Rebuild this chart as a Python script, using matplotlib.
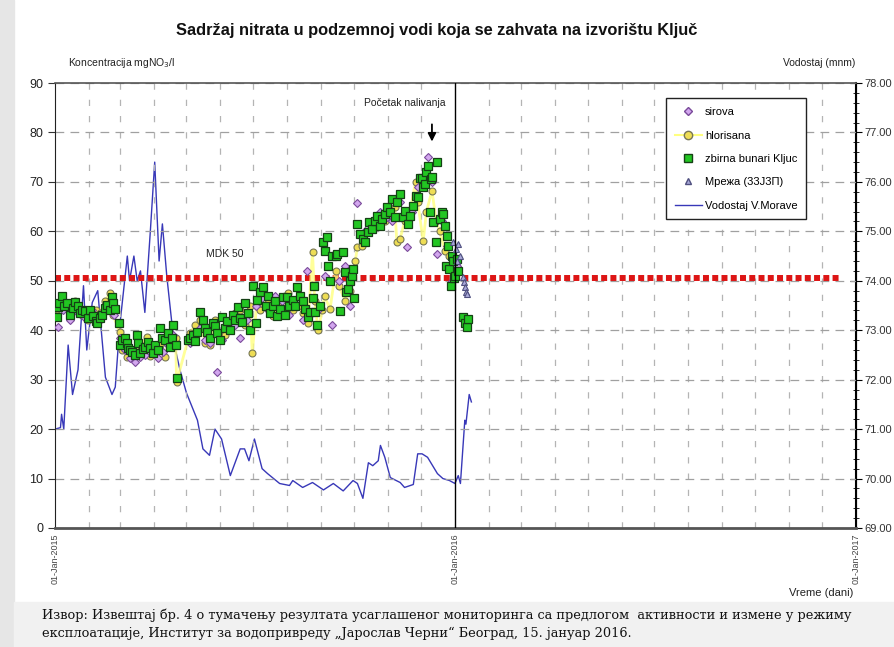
import matplotlib
matplotlib.use('Agg')
import matplotlib.pyplot as plt
import matplotlib.dates as mdates
from matplotlib.patches import Rectangle
from matplotlib.lines import Line2D
import numpy as np
import pandas as pd

plt.rcParams['font.family'] = ['Liberation Sans', 'DejaVu Sans']

start = pd.Timestamp('2015-01-01')

# zbirna bunari Ključ (dani od 01-Jan-2015, mg NO3/l)
zb_day = [2, 3, 4, 6, 8, 11, 14, 16, 18, 21, 23, 25, 27, 30, 32, 35, 37, 38, 41, 43, 46, 47, 50, 52, 53, 55,
          58, 59, 61, 64, 66, 67, 68, 70, 73, 75, 76, 78, 80, 82, 85, 87, 89, 91, 94, 96, 98, 100, 103, 105,
          107, 108, 110, 111,
          121, 123, 126, 128, 130, 132, 135, 137, 139, 141, 144, 146, 148, 151, 152, 155, 157, 160, 162, 164,
          167, 169, 171, 173, 176, 178, 181, 183, 184, 187, 190, 193, 194, 196, 199, 201, 203, 205, 208, 210,
          212, 214, 217, 219, 221, 224, 226, 228, 231, 233, 235, 236, 237, 239, 242, 245, 246, 248, 249, 251,
          253, 256, 257, 260, 263, 265, 266, 267, 269, 271, 272, 273, 276, 278, 281, 283, 286, 287, 289, 292,
          294, 297, 298, 301, 303, 306, 308, 310, 312, 315, 318, 319, 322, 324, 327, 329, 331, 333, 335, 336,
          338, 339, 340, 342, 343, 344, 345, 348, 349, 351, 353, 354, 356, 357, 358, 359, 360, 361, 362, 363,
          364, 365, 367, 368, 372, 374, 376, 377]
zb_val = [42.6, 44.6, 45.5, 47.0, 45.0, 45.6, 43.0, 44.5, 45.8, 44.8, 43.5, 44.0, 43.8, 42.5, 44.0, 42.8, 41.8,
          41.5, 42.5, 43.0, 44.5, 45.2, 44.0, 46.8, 45.6, 44.2,
          41.5, 37.0, 38.0, 38.5, 37.5, 36.5, 36.0, 35.5, 35.0, 39.0, 37.5, 35.4, 36.2, 36.7, 37.7, 36.5, 35.4,
          37.0, 36.0, 40.5, 38.5, 38.0, 39.5, 36.7, 38.5, 41.0, 37.0, 30.3,
          38.0, 38.5, 39.0, 37.8, 39.7, 43.6, 42.0, 40.5, 39.7, 38.5, 41.5, 40.8, 39.5, 38.0, 42.6, 40.5, 41.8,
          40.0, 43.0, 42.0, 44.6, 42.5, 41.7, 45.6, 43.5, 40.0, 48.9, 41.5, 46.2, 47.7, 48.7, 45.0, 47.0, 43.5,
          44.8, 46.0, 42.8, 44.2, 46.8, 43.0, 46.8, 44.8, 46.2, 45.0, 48.7, 47.0, 46.0, 44.2, 42.6, 43.6, 46.6,
          48.9, 43.6, 41.0, 45.0, 57.8, 56.0, 58.9, 53.0, 50.0, 55.0, 55.0, 55.5, 43.8, 55.8, 51.7, 47.7, 48.3,
          50.0, 50.9, 52.3, 46.6, 61.5, 59.5, 58.5, 57.8, 59.9, 61.9, 60.5, 62.0, 63.1, 61.0, 62.5, 63.5, 65.0,
          64.0, 66.6, 62.8, 66.0, 67.6, 63.0, 64.2, 61.5, 63.1, 65.2, 67.2, 67.0, 70.7, 70.7, 69.0, 69.5, 72.0,
          73.3, 64.0, 70.5, 71.0, 61.9, 57.8, 74.1, 62.5, 64.0, 63.5, 61.0, 53.0, 59.0, 57.0, 52.3, 48.9, 55.0,
          54.0, 50.5, 50.9, 54.4, 52.0, 42.6, 41.5, 40.7, 42.2]

# hlorisana
hl_day = [2, 6, 12, 18, 25, 30, 37, 41, 46, 50, 53,
          59, 61, 66, 71, 78, 84, 87, 91, 96, 100, 105, 110, 111,
          123, 128, 132, 137, 141, 146, 151, 155, 160, 164, 169, 173, 178, 180, 184, 187, 192, 194, 199, 204,
          208, 213, 217, 222, 226, 231, 235, 237, 240, 244, 246, 251, 256, 259, 265, 269, 274, 276, 280, 286,
          292, 297, 301, 306, 310, 312, 315, 319, 324, 329, 331, 336, 339, 344, 348, 351, 356, 360, 365]
hl_val = [43.0, 46.0, 44.5, 46.0, 43.0, 42.0, 44.0, 43.5, 46.0, 47.5, 43.0,
          39.7, 36.0, 34.5, 35.5, 37.0, 38.7, 34.8, 36.0, 37.0, 34.5, 39.0, 38.5, 29.5,
          39.5, 41.0, 42.0, 37.5, 37.0, 42.0, 38.5, 39.0, 41.0, 43.5, 44.0, 41.0, 45.0, 35.4, 45.0, 44.0, 47.0,
          45.5, 42.8, 45.5, 44.0, 47.5, 44.0, 45.0, 43.5, 41.5, 55.8, 46.0, 40.0, 44.0, 47.0, 44.2, 52.0, 48.9,
          46.0, 48.0, 54.0, 56.8, 57.0, 60.0, 61.0, 63.0, 62.0, 63.5, 65.0, 57.8, 58.5, 62.0, 64.0, 70.0, 66.0,
          58.0, 64.0, 68.2, 62.0, 60.0, 56.0, 55.0, 51.0]

# sirova
sr_day = [3, 7, 14, 21, 27, 34, 41, 48, 54,
          59, 64, 68, 73, 78, 82, 87, 94, 99, 103, 108,
          123, 132, 137, 141, 148, 152, 158, 164, 169, 175, 183, 189, 194, 201, 207, 214, 221, 226, 230, 240,
          246, 253, 259, 265, 269, 276, 283, 289, 297, 303, 308, 315, 321, 326, 331, 336, 340, 344, 349, 353,
          358, 362, 367]
sr_val = [40.7, 44.0, 42.0, 43.5, 42.5, 44.0, 42.0, 44.0, 43.0,
          38.5, 36.0, 34.4, 33.6, 34.5, 35.0, 35.5, 34.4, 35.5, 37.0, 39.0,
          37.5, 40.5, 38.0, 37.5, 31.6, 38.0, 40.0, 41.0, 38.5, 42.0, 45.0, 46.5, 44.0, 47.0, 46.0, 43.0, 46.0,
          42.0, 52.0, 44.0, 51.0, 41.0, 50.0, 53.0, 45.0, 65.8, 60.0, 62.0, 64.0, 63.0, 62.0, 66.0, 56.8, 64.0,
          69.0, 71.0, 75.0, 70.0, 55.4, 62.0, 57.0, 50.0, 53.0]

# Мрежа (33J3П)
mr_day = [363, 366, 367, 368, 370, 372, 373, 374, 375, 376]
mr_val = [57.8, 56.5, 54.0, 57.5, 55.0, 50.7, 49.7, 48.7, 47.7, 47.3]

# Vodostaj V.Morave (mnm)
vd_day = [0, 5, 6, 8, 12, 16, 21, 26, 29, 34, 39, 46, 52, 55, 59, 66, 68, 72, 75, 78, 82, 87, 91, 95, 98,
          102, 107, 110, 114, 120, 130, 135, 141, 146, 152, 160, 169, 173, 177, 182, 189, 194, 205, 214, 217,
          226, 235, 245, 254, 263, 272, 276, 281, 286, 290, 295, 297, 301, 306, 315, 319, 327, 331, 335, 340,
          349, 354, 360, 365, 368, 370, 374, 375, 378, 380]
vd_val = [71.00, 71.03, 71.30, 71.00, 72.70, 71.70, 72.20, 73.90, 72.60, 73.56, 73.80, 72.05, 71.70, 71.85,
          73.07, 74.50, 74.00, 74.50, 74.00, 74.20, 73.36, 75.00, 76.40, 74.40, 75.15, 74.10, 73.07, 72.60,
          72.20, 71.73, 71.18, 70.60, 70.47, 71.00, 70.80, 70.06, 70.60, 70.60, 70.36, 70.80, 70.20, 70.10,
          69.90, 69.86, 69.96, 69.82, 69.92, 69.77, 69.90, 69.75, 69.96, 69.90, 69.60, 70.32, 70.26, 70.36,
          70.67, 70.43, 70.02, 69.92, 69.82, 69.88, 70.50, 70.50, 70.43, 70.10, 70.00, 69.96, 69.90, 70.06,
          69.90, 71.18, 71.10, 71.70, 71.55]

mdk = 50.5


def to_dates(days):
    return start + pd.to_timedelta(np.array(days), unit='D')


fig = plt.figure(figsize=(8.94, 6.47), dpi=100)
fig.patch.set_facecolor('white')
# siva traka levo i pozadina izvora
fig.patches.append(Rectangle((0, 0), 14 / 894, 1, transform=fig.transFigure, color='#e6e6e6', zorder=0))
fig.patches.append(Rectangle((14 / 894, 0), 1, 45 / 647, transform=fig.transFigure, color='#f1f1f1', zorder=0))

ax = fig.add_axes([55 / 894, 119 / 647, 801 / 894, 445 / 647])
ax2 = ax.twinx()
ax.set_zorder(ax2.get_zorder() + 1)
ax.patch.set_visible(False)

x0 = pd.Timestamp('2015-01-01')
x1 = pd.Timestamp('2017-01-01')

ax.set_xlim(x0, x1)
ax.set_ylim(0, 90)
ax2.set_ylim(69, 78)

# mreza
ax.set_yticks(np.arange(0, 91, 10))
ax.xaxis.set_minor_locator(mdates.MonthLocator())
ax.set_xticks([x0, pd.Timestamp('2016-01-01'), x1])
ax.set_xticklabels(['01-Jan-2015', '01-Jan-2016', '01-Jan-2017'], rotation=90, fontsize=6.5, color='#444444')
ax.grid(True, which='minor', axis='x', color='#b4b4b4', linestyle=(0, (5, 8)), linewidth=0.9)
ax.grid(True, which='major', axis='y', color='#a0a0a0', linestyle=(0, (7, 5)), linewidth=0.9)
ax.tick_params(axis='x', which='both', length=0, pad=4)
ax.tick_params(axis='y', direction='out', length=5, labelsize=9, labelcolor='#222222', color='#333333')

ax2.set_yticks(np.arange(69, 78.01, 1))
ax2.set_yticklabels(['%.2f' % v for v in np.arange(69, 78.01, 1)])
ax2.yaxis.set_minor_locator(plt.MultipleLocator(0.2))
ax2.tick_params(axis='y', which='major', direction='inout', length=8, labelsize=8, labelcolor='#333333', pad=2)
ax2.tick_params(axis='y', which='minor', direction='inout', length=5)

for s in ['top', 'bottom']:
    ax.spines[s].set_color('#555555')
ax.spines['bottom'].set_linewidth(2)
ax.spines['top'].set_linewidth(1.2)
ax.spines['left'].set_color('#222222')
ax2.spines['right'].set_linewidth(1.5)
for s in ['top', 'bottom', 'left']:
    ax2.spines[s].set_visible(False)

# vodostaj na desnoj osi
ax2.plot(to_dates(vd_day), vd_val, color='#3838b8', linewidth=1.0, zorder=3)

# MDK linija
ax.plot([x0, pd.Timestamp('2016-12-18')], [mdk, mdk], color='#dd1515', linewidth=4.3,
        linestyle=(0, (1, 0.55)), zorder=2)

# nitrati
ax.plot(to_dates(hl_day), hl_val, color='#ffff80', linewidth=2.0, alpha=0.8, zorder=3)
ax.plot(to_dates(hl_day), hl_val, linestyle='none', marker='o', markersize=5, markerfacecolor='#eedd55',
        markeredgecolor='#777755', markeredgewidth=0.8, zorder=4)
ax.plot(to_dates(sr_day), sr_val, linestyle='none', marker='D', markersize=3.8, markerfacecolor='#d2a6ee',
        markeredgecolor='#7a4a9a', markeredgewidth=0.8, zorder=5)
ax.plot(to_dates(zb_day), zb_val, linestyle='none', marker='s', markersize=5.2, markerfacecolor='#22c622',
        markeredgecolor='#154015', markeredgewidth=0.9, zorder=6)
ax.plot(to_dates(mr_day), mr_val, linestyle='none', marker='^', markersize=4.5, markerfacecolor='#a8a8d8',
        markeredgecolor='#505080', markeredgewidth=0.8, zorder=6)

# pocetak 2016
ax.axvline(pd.Timestamp('2016-01-01'), color='black', linewidth=1.0, zorder=7)

# tekstovi
ax.text(to_dates([155])[0], 55.4, 'MDK 50', fontsize=7.5, ha='center', va='center', color='#222222')
ax.text(to_dates([319])[0], 86.0, 'Početak nalivanja', fontsize=7.5, ha='center', va='center', color='#222222')
ax.annotate('', xy=(to_dates([344])[0], 77.6), xytext=(to_dates([344])[0], 82.2),
            arrowprops=dict(arrowstyle='-|>', color='black', lw=1.3, mutation_scale=12))

fig.text(0.488, 1 - 30 / 647, 'Sadržaj nitrata u podzemnoj vodi koja se zahvata na izvorištu Ključ',
         fontsize=11.8, fontweight='bold', ha='center', va='center', color='#111111')
fig.text(68 / 894, 1 - 63 / 647, 'Koncentracija mgNO$_3$/l', fontsize=7.5, ha='left', va='center',
         color='#222222')
fig.text(855 / 894, 1 - 63 / 647, 'Vodostaj (mnm)', fontsize=7.5, ha='right', va='center', color='#222222')
fig.text(853 / 894, 1 - 593 / 647, 'Vreme (dani)', fontsize=8, ha='right', va='center', color='#222222')

cap1 = ('Извор: Извештај бр. 4 о тумачењу резултата усаглашеног мониторинга са предлогом  '
        'активности и измене у режиму')
cap2 = 'експлоатације, Институт за водопривреду „Јарослав Черни“ Београд, 15. јануар 2016.'
fig.text(42 / 894, 1 - 615 / 647, cap1, fontsize=9.25, family=['DejaVu Serif'],
         ha='left', va='center', color='#111111')
fig.text(42 / 894, 1 - 633 / 647, cap2, fontsize=9.25, family=['DejaVu Serif'],
         ha='left', va='center', color='#111111')

# legenda
handles = [
    Line2D([], [], linestyle='none', marker='D', markersize=4.5, markerfacecolor='#d2a6ee',
           markeredgecolor='#7a4a9a'),
    Line2D([], [], color='#ffff80', linewidth=1.5, marker='o', markersize=6, markerfacecolor='#eedd55',
           markeredgecolor='#777755'),
    Line2D([], [], linestyle='none', marker='s', markersize=6, markerfacecolor='#22c622',
           markeredgecolor='#154015'),
    Line2D([], [], linestyle='none', marker='^', markersize=5, markerfacecolor='#a8a8d8',
           markeredgecolor='#505080'),
    Line2D([], [], color='#3838b8', linewidth=1.0),
]
labels = ['sirova', 'hlorisana', 'zbirna bunari Kljuc', 'Мрежа (33J3П)', 'Vodostaj V.Morave']
leg = ax.legend(handles, labels, loc='upper right', bbox_to_anchor=(0.945, 0.978), fontsize=8,
                frameon=True, fancybox=False, edgecolor='#222222', framealpha=1, labelspacing=1.2,
                handlelength=2.4, handletextpad=0.3, borderpad=0.8)
leg.get_frame().set_linewidth(1.0)
leg.set_zorder(10)

fig.savefig('out.png', dpi=100)
